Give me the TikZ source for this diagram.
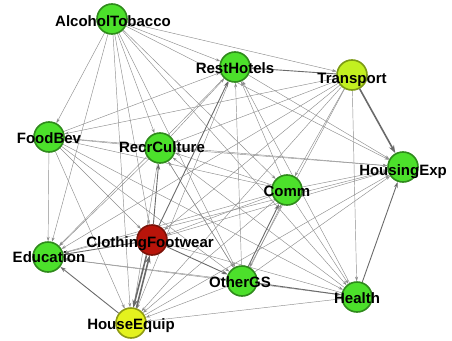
\documentclass[tikz,border=0pt]{standalone}
\usepackage{fontspec}
\setmainfont{Liberation Sans}
\usetikzlibrary{arrows.meta}
\pgfdeclarelayer{background}
\pgfsetlayers{background,main}

\definecolor{greenfill}{HTML}{4CE02B}
\definecolor{greenrim}{HTML}{2F8A1C}
\definecolor{redfill}{HTML}{B8140A}
\definecolor{redrim}{HTML}{7A1208}
\definecolor{yellowfill}{HTML}{E4F21E}
\definecolor{yellowrim}{HTML}{8E9A12}
\definecolor{limefill}{HTML}{C2F020}
\definecolor{limerim}{HTML}{7C9A14}
\definecolor{edgegrey}{HTML}{8E8E8E}
\definecolor{edgedark}{HTML}{6A6A6A}

\begin{document}
\begin{tikzpicture}[x=1pt,y=-1pt,
  vertex/.style={circle,minimum size=30pt,inner sep=0pt,line width=1.6pt},
  green vertex/.style={vertex,fill=greenfill,draw=greenrim},
  red vertex/.style={vertex,fill=redfill,draw=redrim},
  yellow vertex/.style={vertex,fill=yellowfill,draw=yellowrim},
  lime vertex/.style={vertex,fill=limefill,draw=limerim},
  lbl/.style={font=\bfseries\fontsize{15}{15}\selectfont,anchor=base,inner sep=0pt},
  link/.style={draw=edgegrey,line width=0.45pt,-{Stealth[length=4.5pt,width=3pt]}},
  mid link/.style={draw=edgedark,line width=0.9pt,-{Stealth[length=6pt,width=4pt]}},
  heavy link/.style={draw=edgedark,line width=1.6pt,-{Stealth[length=8pt,width=5.5pt]}},
]
\useasboundingbox (0,0) rectangle (452,340);

% vertices
\node[green vertex]  (AT) at (112,19)  {};
\node[green vertex]  (RH) at (235,67)  {};
\node[lime vertex]   (TR) at (352,75)  {};
\node[green vertex]  (FB) at (49,137)  {};
\node[green vertex]  (RC) at (160,148) {};
\node[green vertex]  (HX) at (403,167) {};
\node[green vertex]  (CM) at (287,190) {};
\node[red vertex]    (CF) at (152,240) {};
\node[green vertex]  (ED) at (48,257)  {};
\node[green vertex]  (OG) at (242,281) {};
\node[green vertex]  (HL) at (357,297) {};
\node[yellow vertex] (HE) at (131,323) {};

% connectors
\begin{pgfonlayer}{background}
  \foreach \s/\t in {
      AT/RH, AT/TR, AT/FB, AT/RC, AT/HX, AT/CM, AT/CF, AT/ED, AT/OG, AT/HL, AT/HE,
      TR/FB, TR/RC, TR/CM, TR/CF, TR/ED, TR/OG, TR/HL, TR/HE,
      FB/RH, FB/RC, FB/HX, FB/CM, FB/CF, FB/ED, FB/OG, FB/HL, FB/HE,
      CM/RH, CM/RC, CM/HX, CM/CF, CM/ED, CM/HL, CM/HE,
      OG/RH, OG/RC, OG/HX, OG/ED, OG/HE,
      HL/RC, HL/CF, HL/RH, HL/ED, HL/HE,
      RC/RH, RC/HX, RC/ED, RC/HE,
      CF/HX,
      RH/HX, RH/ED, RH/HE,
      HE/HX, ED/HX}
    \draw[link] (\s) -- (\t);
  \draw[link] (RC) -- (OG);
  \draw[mid link] (TR) -- (RH);
  \draw[mid link] (HL) -- (HX);
  \draw[mid link] (OG) -- (HL);
  \draw[mid link,transform canvas={xshift=-1pt}] (OG) -- (CM);
  \draw[link,transform canvas={xshift=1.5pt}] (OG) -- (CM);
  \draw[mid link] (CF) -- (RC);
  \draw[mid link] (CF) -- (RH);
  \draw[mid link] (CF) -- (ED);
  \draw[mid link] (CF) -- (OG);
  \draw[mid link] (HE) -- (ED);
  \draw[heavy link] (TR) -- (HX);
  \draw[heavy link,transform canvas={xshift=1.6pt}] (HE) -- (CF);
  \draw[heavy link,transform canvas={xshift=-1.6pt}] (CF) -- (HE);
\end{pgfonlayer}

% labels
\node[lbl] (lAT) at (113,26)  {AlcoholTobacco};
\node[lbl] (lRH) at (235,73)  {RestHotels};
\node[lbl] (lTR) at (352,83)  {Transport};
\node[lbl] (lFB) at (49,143)  {FoodBev};
\node[lbl] (lRC) at (162,152) {RecrCulture};
\node[lbl] (lHX) at (403,175) {HousingExp};
\node[lbl] (lCM) at (287,196) {Comm};
\node[lbl] (lCF) at (150,247) {ClothingFootwear};
\node[lbl] (lED) at (49,262)  {Education};
\node[lbl] (lOG) at (240,287) {OtherGS};
\node[lbl] (lHL) at (357,303) {Health};
\node[lbl] (lHE) at (131,329) {HouseEquip};
\end{tikzpicture}
\end{document}
